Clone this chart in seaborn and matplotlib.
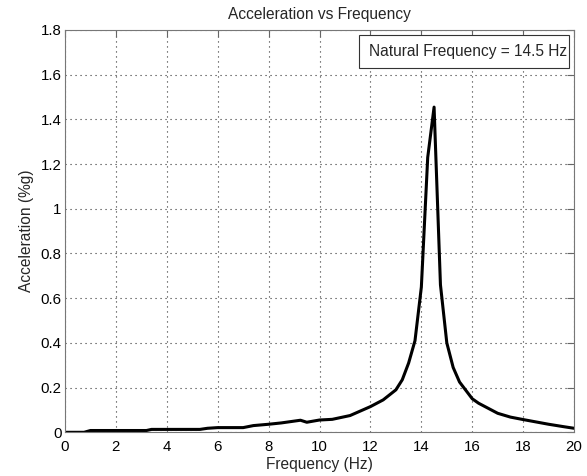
import matplotlib
matplotlib.use("Agg")
import matplotlib.pyplot as plt
import matplotlib.patches as mpatches
import seaborn as sns
import pandas as pd

freq = [0.0, 0.75, 1.0, 3.2, 3.4, 5.3, 5.6, 6.0, 7.0, 7.4, 8.0, 8.5, 9.25, 9.5,
        10.0, 10.5, 11.2, 11.5, 12.0, 12.5, 13.0, 13.25, 13.5, 13.75, 14.0, 14.25,
        14.5, 14.75, 15.0, 15.25, 15.5, 16.0, 16.25, 17.0, 17.5, 18.0, 19.0, 19.6, 20.0]
accel = [0.0, 0.0, 0.008, 0.008, 0.013, 0.013, 0.018, 0.021, 0.021, 0.03, 0.036, 0.042, 0.054, 0.045,
         0.055, 0.058, 0.075, 0.09, 0.115, 0.145, 0.19, 0.235, 0.31, 0.41, 0.65, 1.23,
         1.455, 0.66, 0.40, 0.29, 0.225, 0.15, 0.13, 0.085, 0.068, 0.057, 0.036, 0.025, 0.018]
xticks = [0, 2, 4, 6, 8, 10, 12, 14, 16, 18, 20]
yticks = [0, 0.2, 0.4, 0.6, 0.8, 1.0, 1.2, 1.4, 1.6, 1.8]
ytick_labels = ["0", "0.2", "0.4", "0.6", "0.8", "1", "1.2", "1.4", "1.6", "1.8"]
title = "Acceleration vs Frequency"
xlabel = "Frequency (Hz)"
ylabel = "Acceleration (%g)"
annotation = "Natural Frequency = 14.5 Hz"

sns.set_style("white")
plt.rcParams['font.family'] = ['Liberation Sans', 'DejaVu Sans']

df = pd.DataFrame({"freq": freq, "accel": accel})

fig = plt.figure(figsize=(5.87, 4.76), dpi=100)
ax = fig.add_axes([0.1107, 0.0918, 0.978 - 0.1107, 0.937 - 0.0918])

sns.lineplot(data=df, x="freq", y="accel", color="black", linewidth=2.2, ax=ax, sort=False)

ax.set_xlim(0, 20)
ax.set_ylim(0, 1.8)
ax.set_xticks(xticks)
ax.set_xticklabels([str(t) for t in xticks])
ax.set_yticks(yticks)
ax.set_yticklabels(ytick_labels)
ax.tick_params(direction="in", length=5, width=0.8, color="#666666", labelsize=10.8,
               top=True, right=True, labelcolor="black")
ax.tick_params(axis="x", pad=5.5)
ax.tick_params(axis="y", pad=2.5)
ax.grid(True, linestyle=(0, (1, 3.5)), color="#333333", linewidth=0.8)
for s in ax.spines.values():
    s.set_color("#777777")
    s.set_linewidth(0.8)

ax.set_title(title, fontsize=11.2, pad=8)
ax.set_xlabel(xlabel, fontsize=11.2, labelpad=2.5)
ax.set_ylabel(ylabel, fontsize=11.2, labelpad=5)

box = mpatches.Rectangle((0.5776, 0.9055), 0.990 - 0.5776, 0.9876 - 0.9055,
                         transform=ax.transAxes, facecolor="white", edgecolor="#333333",
                         linewidth=0.8, zorder=5)
ax.add_patch(box)
ax.text(0.597, 0.9466, annotation, transform=ax.transAxes, ha="left", va="center",
        fontsize=11.2, zorder=6)

fig.savefig("out.png", dpi=100)
